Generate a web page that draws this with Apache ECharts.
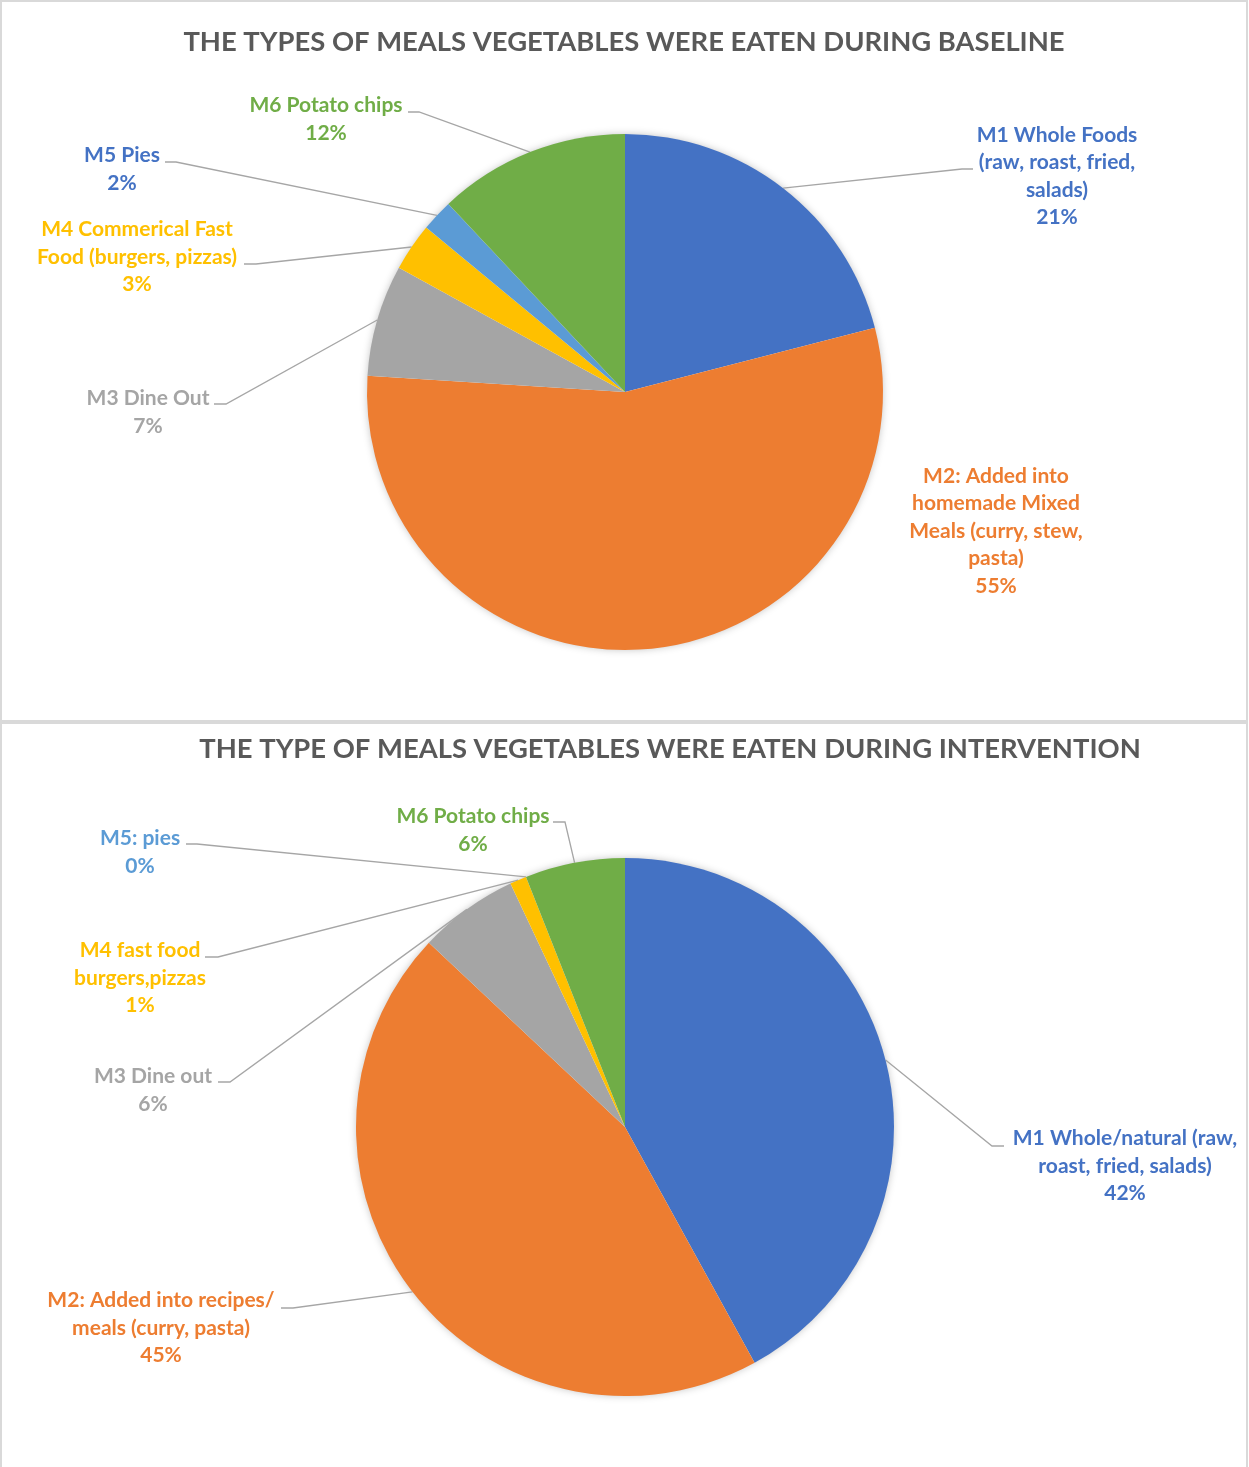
<!DOCTYPE html>
<html>
<head>
<meta charset="utf-8">
<script src="https://cdn.jsdelivr.net/npm/echarts@6/dist/echarts.min.js"></script>
<style>
  html, body { margin: 0; padding: 0; background: #ffffff; }
  #chart { width: 1249px; height: 1467px; }
</style>
</head>
<body>
<div id="chart"></div>
<script>
// Meal types in which vegetables were eaten (share of occasions, %)
const baselineTitle = 'THE TYPES OF MEALS VEGETABLES WERE EATEN DURING BASELINE';
const baselineCategories = [
  'M1 Whole Foods\n(raw, roast, fried,\nsalads)',
  'M2: Added into\nhomemade Mixed\nMeals (curry, stew,\npasta)',
  'M3 Dine Out',
  'M4 Commerical Fast\nFood (burgers, pizzas)',
  'M5 Pies',
  'M6 Potato chips'
];
const baselineValues = [21, 55, 7, 3, 2, 12];

const interventionTitle = 'THE TYPE OF MEALS VEGETABLES WERE EATEN DURING INTERVENTION';
const interventionCategories = [
  'M1 Whole/natural (raw,\nroast, fried, salads)',
  'M2: Added into recipes/\nmeals (curry, pasta)',
  'M3 Dine out',
  'M4 fast food\nburgers,pizzas',
  'M5: pies',
  'M6 Potato chips'
];
const interventionValues = [42, 45, 6, 1, 0, 6];

// Styling
const sliceColors = ['#4472C4', '#ED7D31', '#A5A5A5', '#FFC000', '#5B9BD5', '#70AD47'];
const baselineLabelColors = ['#4472C4', '#ED7D31', '#A5A5A5', '#FFC000', '#4472C4', '#70AD47'];
const interventionLabelColors = ['#4472C4', '#ED7D31', '#A5A5A5', '#FFC000', '#5B9BD5', '#70AD47'];
const FONT = 'Lato, "Open Sans", sans-serif';

// Pie geometry
const pies = [
  { center: [625, 392], radius: 258 },
  { center: [625, 1127], radius: 269 }
];

// Label placement: label block centre, the point where the leader meets the label,
// and the short horizontal elbow next to it (null = no leader line)
const baselineLabelPos = [
  { c: [1057, 176], end: [973, 169], elbow: [962, 169] },
  { c: [996, 531], end: null },
  { c: [148, 412], end: [214, 404], elbow: [226, 404] },
  { c: [137, 257], end: [244, 264], elbow: [256, 264] },
  { c: [122, 169], end: [165, 162], elbow: [176, 162] },
  { c: [326, 119], end: [408, 112], elbow: [419, 112] }
];
const interventionLabelPos = [
  { c: [1125, 1166], end: [1004, 1146], elbow: [992, 1146] },
  { c: [161, 1328], end: [281, 1308], elbow: [293, 1308] },
  { c: [153, 1090], end: [218, 1082], elbow: [230, 1082] },
  { c: [140, 978], end: [205, 957], elbow: [218, 957] },
  { c: [140, 852], end: [186, 844], elbow: [197, 844] },
  { c: [473, 830], end: [553, 822], elbow: [565, 822] }
];

function buildData(names, values, labelColors, positions) {
  return names.map((name, i) => ({
    name: name,
    value: values[i],
    itemStyle: { color: sliceColors[i] },
    label: { color: labelColors[i] },
    labelLine: { show: positions[i].end !== null }
  }));
}

function makePie(idx, names, values, labelColors, positions) {
  return {
    type: 'pie',
    center: pies[idx].center,
    radius: pies[idx].radius,
    startAngle: 90,
    clockwise: true,
    avoidLabelOverlap: false,
    animation: false,
    z: 5,
    itemStyle: { borderWidth: 0 },
    emphasis: { disabled: true },
    label: {
      show: true,
      position: 'outside',
      formatter: p => p.name + '\n' + p.value + '%',
      fontFamily: FONT,
      fontWeight: 'bold',
      fontSize: 21,
      lineHeight: 27.5,
      align: 'center'
    },
    labelLine: {
      show: true,
      lineStyle: { color: '#A6A6A6', width: 1.3 }
    },
    labelLayout: function (params) {
      const pos = positions[params.dataIndex];
      const out = { x: pos.c[0], y: pos.c[1], align: 'center', verticalAlign: 'middle' };
      if (pos.end && params.labelLinePoints) {
        const anchor = params.labelLinePoints[0];
        out.labelLinePoints = [anchor, pos.elbow, pos.end];
      }
      return out;
    },
    data: buildData(names, values, labelColors, positions)
  };
}

const chart = echarts.init(document.getElementById('chart'), null, { renderer: 'canvas' });

chart.setOption({
  backgroundColor: '#ffffff',
  animation: false,
  graphic: [
    // chart frames
    { type: 'rect', z: 0, silent: true, shape: { x: 1, y: 1, width: 1246, height: 720 },
      style: { fill: '#ffffff', stroke: '#D9D9D9', lineWidth: 2 } },
    { type: 'rect', z: 0, silent: true, shape: { x: 1, y: 723, width: 1246, height: 760 },
      style: { fill: '#ffffff', stroke: '#D9D9D9', lineWidth: 2 } },
    // soft shadow beneath each pie
    { type: 'circle', z: 1, silent: true,
      shape: { cx: pies[0].center[0], cy: pies[0].center[1], r: pies[0].radius - 1 },
      style: { fill: '#ffffff', shadowBlur: 8, shadowColor: 'rgba(0,0,0,0.28)' } },
    { type: 'circle', z: 1, silent: true,
      shape: { cx: pies[1].center[0], cy: pies[1].center[1], r: pies[1].radius - 1 },
      style: { fill: '#ffffff', shadowBlur: 8, shadowColor: 'rgba(0,0,0,0.28)' } },
    // titles
    { type: 'text', z: 2, x: 624, y: 42, silent: true,
      style: { text: baselineTitle, fill: '#595959', font: 'bold 27.4px ' + FONT,
               align: 'center', verticalAlign: 'middle' } },
    { type: 'text', z: 2, x: 670, y: 749, silent: true,
      style: { text: interventionTitle, fill: '#595959', font: 'bold 27.4px ' + FONT,
               align: 'center', verticalAlign: 'middle' } }
  ],
  series: [
    makePie(0, baselineCategories, baselineValues, baselineLabelColors, baselineLabelPos),
    makePie(1, interventionCategories, interventionValues, interventionLabelColors, interventionLabelPos)
  ]
});
</script>
</body>
</html>
